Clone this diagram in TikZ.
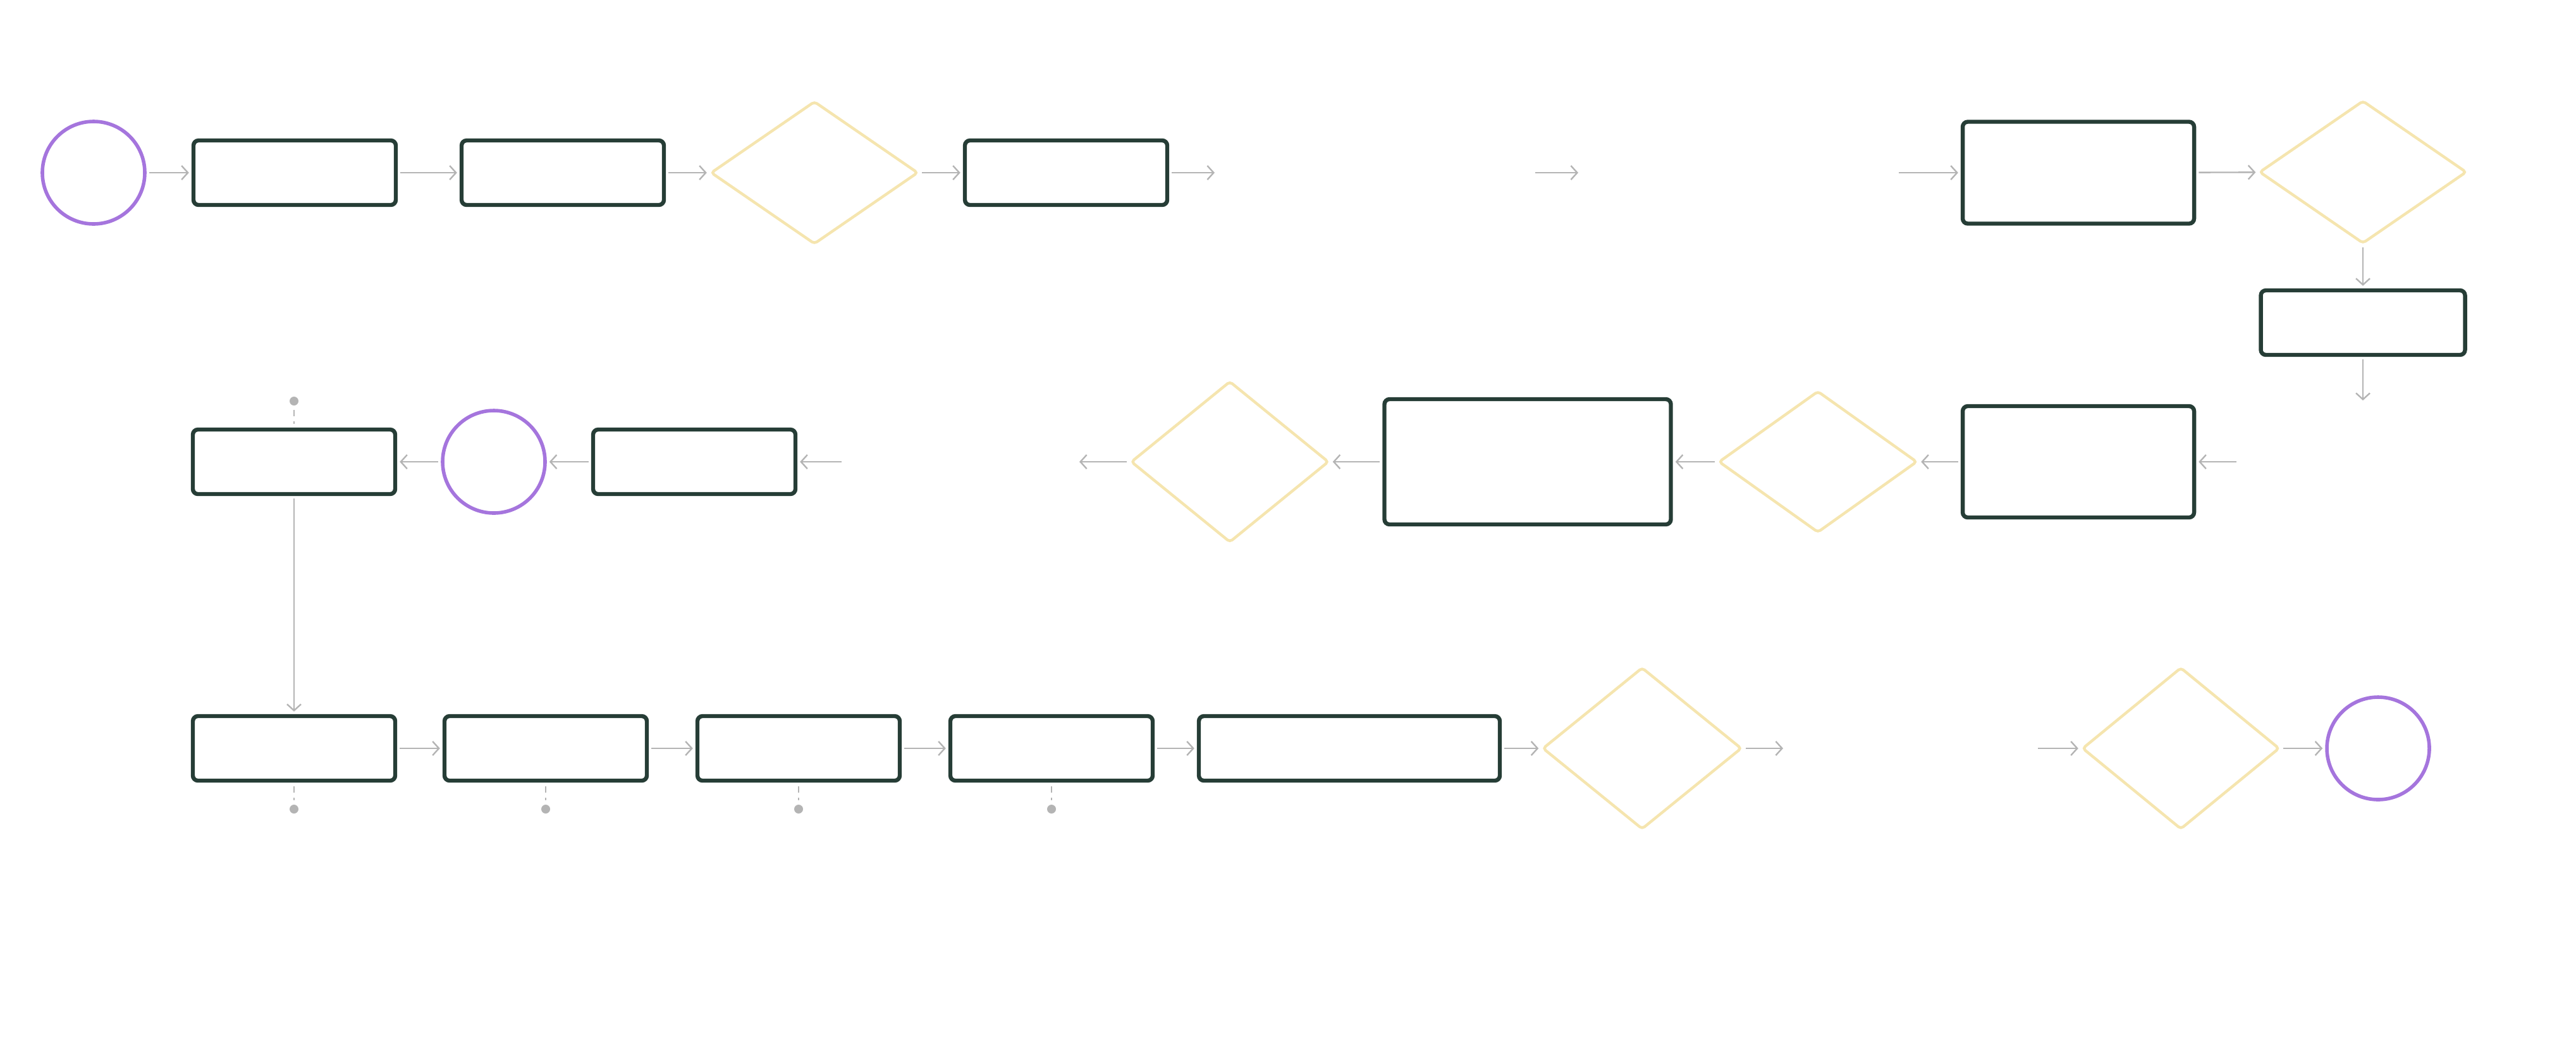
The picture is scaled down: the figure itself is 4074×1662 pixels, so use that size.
\documentclass[tikz,border=0pt]{standalone}
\usetikzlibrary{shapes.geometric,arrows.meta}
\definecolor{boxc}{RGB}{38,61,54}
\definecolor{decc}{RGB}{245,229,175}
\definecolor{termc}{RGB}{165,117,221}
\definecolor{linec}{RGB}{180,180,180}
\begin{document}
\begin{tikzpicture}[x=0.25pt,y=-0.25pt,
  box/.style={draw=boxc, line width=1.6pt, rounded corners=2pt, rectangle, inner sep=0pt, minimum width=80pt, minimum height=25.5pt},
  term/.style={draw=termc, line width=1.4pt, circle, inner sep=0pt, minimum size=40.5pt},
  dec/.style={draw=decc, line width=1.1pt, diamond, inner sep=0pt, rounded corners=1.2pt},
  conn/.style={draw=linec, line width=0.6pt, -{Straight Barb[length=2.5pt,width=5.5pt]}, shorten <=1pt, shorten >=1pt},
  dotn/.style={circle, fill=linec, inner sep=0pt, minimum size=3.5pt},
  dashc/.style={draw=linec, line width=0.5pt, dash pattern=on 2.5pt off 2pt, shorten <=1.5pt, shorten >=1.5pt}]
\useasboundingbox (0,0) rectangle (4074,1662);
% Row 1
\node[term] (c1) at (148,273) {};
\node[box] (r1) at (466,273) {};
\node[box] (r2) at (890,273) {};
\node[dec, minimum width=82pt, minimum height=56.5pt] (d1) at (1288,273) {};
\node[box] (r3) at (1686,273) {};
\coordinate (e1) at (1921,273);
\coordinate (f1) at (2428,273);
\coordinate (f2) at (2496,273);
\coordinate (g1) at (3003,273);
\node[box, minimum width=91.5pt, minimum height=40.25pt] (r4) at (3287,273) {};
\node[dec, minimum width=82pt, minimum height=56.5pt] (d2) at (3737,272) {};
\node[box, minimum width=80.75pt, minimum height=25.5pt] (r5) at (3737,510) {};
\coordinate (g2) at (3737,633);
% Row 2
\node[box, minimum width=91.5pt, minimum height=44pt] (r6) at (3287,730) {};
\coordinate (g3) at (3537,730);
\node[dec, minimum width=78.5pt, minimum height=56pt] (d4) at (2875,730) {};
\node[box, minimum width=113.25pt, minimum height=49.5pt] (r9) at (2416,730) {};
\node[dec, minimum width=78.25pt, minimum height=63.75pt] (d3) at (1945,730) {};
\coordinate (g4) at (1707,730);
\coordinate (g5) at (1331,730);
\node[box] (r8) at (1098,730) {};
\node[term] (c2) at (781,730) {};
\node[box] (r7) at (465,730) {};
\node[dotn] (p0) at (465,634) {};
% Row 3
\node[box] (r10) at (465,1183) {};
\node[box] (r11) at (863,1183) {};
\node[box] (r12) at (1263,1183) {};
\node[box] (r13) at (1663,1183) {};
\node[box, minimum width=119pt] (r14) at (2134,1183) {};
\node[dec, minimum width=78.75pt, minimum height=64pt] (d5) at (2597,1183) {};
\coordinate (g6) at (2820,1183);
\coordinate (g7) at (3223,1183);
\node[dec, minimum width=78pt, minimum height=64pt] (d6) at (3449,1183) {};
\node[term] (c3) at (3761,1183) {};
\node[dotn] (p1) at (465,1279) {};
\node[dotn] (p2) at (863,1279) {};
\node[dotn] (p3) at (1263,1279) {};
\node[dotn] (p4) at (1663,1279) {};
% Connectors row 1
\draw[conn] (c1) -- (r1);
\draw[conn] (r1) -- (r2);
\draw[conn] (r2) -- (d1);
\draw[conn] (d1) -- (r3);
\draw[conn, shorten >=0pt] (r3) -- (e1);
\draw[conn, shorten <=0pt, shorten >=0pt] (f1) -- (f2);
\draw[conn, shorten <=0pt] (g1) -- (r4);
\draw[conn] (r4) -- (d2);
\draw[conn] (d2) -- (r5);
\draw[conn, shorten >=0pt] (r5) -- (g2);
% Connectors row 2
\draw[conn, shorten <=0pt] (g3) -- (r6);
\draw[conn] (r6) -- (d4);
\draw[conn] (d4) -- (r9);
\draw[conn] (r9) -- (d3);
\draw[conn, shorten >=0pt] (d3) -- (g4);
\draw[conn, shorten <=0pt] (g5) -- (r8);
\draw[conn] (r8) -- (c2);
\draw[conn] (c2) -- (r7);
\draw[dashc] (p0) -- (r7);
\draw[conn] (r7) -- (r10);
% Connectors row 3
\draw[conn] (r10) -- (r11);
\draw[conn] (r11) -- (r12);
\draw[conn] (r12) -- (r13);
\draw[conn] (r13) -- (r14);
\draw[conn] (r14) -- (d5);
\draw[conn, shorten >=0pt] (d5) -- (g6);
\draw[conn, shorten <=0pt] (g7) -- (d6);
\draw[conn] (d6) -- (c3);
\draw[dashc] (r10) -- (p1);
\draw[dashc] (r11) -- (p2);
\draw[dashc] (r12) -- (p3);
\draw[dashc] (r13) -- (p4);
\end{tikzpicture}
\end{document}
